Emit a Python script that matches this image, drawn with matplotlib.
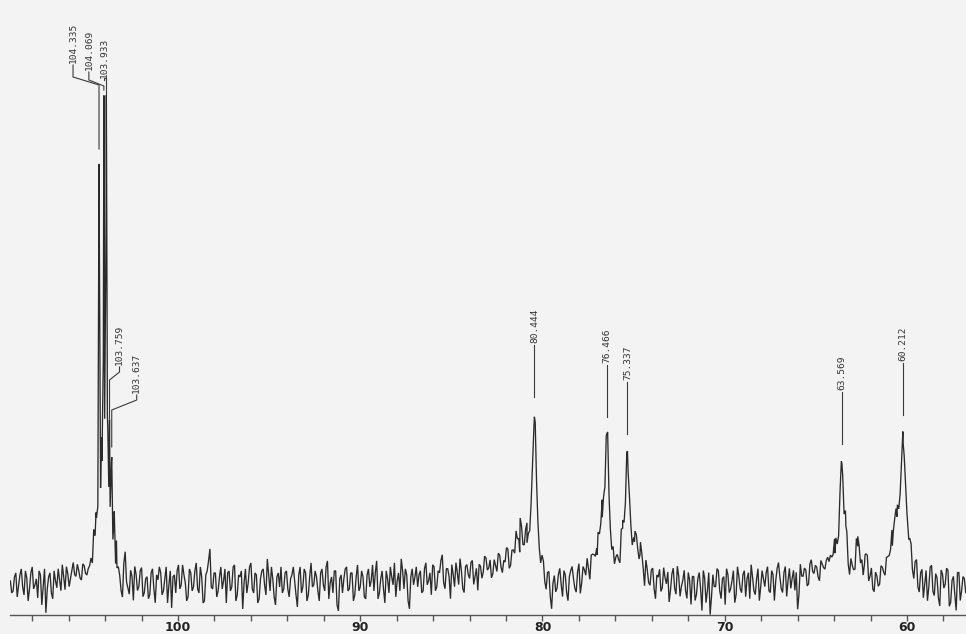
import numpy as np
import matplotlib
matplotlib.use("Agg")
import matplotlib.pyplot as plt

# ---------------- data ----------------
# peak list: chemical shift (ppm), height above baseline, half width (ppm)
peak_ppm = [104.62, 104.50, 104.335, 104.20, 104.069, 103.933, 103.85, 103.759, 103.637, 103.50, 103.38,
            81.25, 80.85, 80.444,
            77.00, 76.72, 76.466,
            75.60, 75.337, 74.95, 74.65,
            63.95, 63.569, 63.35, 62.70, 62.30,
            60.80, 60.55, 60.212, 59.90]
peak_height = [40, 55, 405, 110, 460, 455, 95, 135, 110, 55, 35,
               24, 20, 162,
               16, 34, 137,
               32, 121, 26, 20,
               18, 109, 28, 30, 22,
               22, 42, 130, 22]
peak_hwhm = [0.03, 0.03, 0.025, 0.03, 0.025, 0.025, 0.03, 0.025, 0.025, 0.03, 0.03,
             0.20, 0.15, 0.13,
             0.30, 0.12, 0.11,
             0.12, 0.11, 0.12, 0.15,
             0.15, 0.12, 0.12, 0.15, 0.15,
             0.15, 0.12, 0.13, 0.15]

# labelled peaks
label_text = ["104.335", "104.069", "103.933", "103.759", "103.637",
              "80.444", "76.466", "75.337", "63.569", "60.212"]
label_ppm = [104.335, 104.069, 103.933, 103.759, 103.637,
             80.444, 76.466, 75.337, 63.569, 60.212]
label_peak_top = [416, 475, 470, 146, 118, 168, 148, 131, 121, 150]

# baseline noise, sampled every 0.15 ppm from 109.2 ppm downwards
noise_start = 109.2
noise_step = 0.15
baseline_noise = [
    2, -8, 10, -3, 14, -12, 5, -6, 16, -2, -15, 8, -4, -30, 6, -10, 12, -5, 3, 18, -7, 9, 4, 20, 6,
    12, 2, 16, 6, 14, 10, 18, 12, 20, 14, 16, 10, 18, 6, -8, 4, -16, 30, -6, 12, -18, 8, -4, 15, -10,
    6, -12, 14, -20, 3, 10, -8, 16, -2, -25, 8, 12, -6, 18, 0, -14, 10, -4, 20, -10, 6, -18, 12, 34, -6,
    10, -8, 16, 2, -20, 12, -4, 18, -12, 6, -26, 14, 0, 20, -10, 8, -16, 12, -2, 24, -8, 4, -22, 10, 16,
    -6, 12, -14, 8, 2, -24, 16, -4, 10, -12, 20, -2, 6, -18, 14, -8, 22, 0, -10, 12, -28, 8, 4, 16, -6,
    10, -12, 18, -4, 6, -16, 14, 2, -8, 22, -10, 12, -20, 4, 16, -2, -14, 10, 24, -6, 8, -26, 14, 6, -4,
    12, -8, 20, 2, -12, 16, -4, 10, 28, -6, 14, -16, 8, 20, -2, 12, -10, 18, 4, 22, 6, -8, 16, 10, 24,
    14, 4, 22, 10, 26, 8, 18, 30, 12, 24, 36, 16, 28, 10, 20, 6, 14, 12, 8, -2, 10, -14, 6, -30, 4,
    -8, 12, -16, 6, -20, 10, 2, -12, 16, -4, 8, 18, -6, 14, 4, 20, 10, 16, 8, 14, 6, 2, 12, -6, 8,
    4, -8, 14, 6, 18, -4, 10, -12, 8, -6, 12, -18, 4, -10, 14, -2, -20, 8, -6, 16, -14, 2, -8, 10, -22,
    6, -12, 10, -28, 4, -8, -32, 8, -4, 12, -16, 6, 14, -10, 2, -20, 16, -6, 8, -14, 10, 18, -8, 4, -18,
    12, -4, 16, -10, 8, 2, 20, -6, 10, -14, 14, 4, -8, -27, 18, 6, 12, -2, 22, 8, 14, 0, 16, 10, 20,
    18, 8, 14, 4, 10, -6, 6, -12, 2, -8, 10, -4, -16, 4, -10, 8, -14, 2, -6, 10, 0, 14, 8, 12, 16,
    14, 18, 10, 16, 8, -4, 12, -10, 6, -18, 10, -6, 16, -14, 4, -24, 8, -2, 12, -20, 6, -28, 10, -8, 4,
]
# noise read at the midpoints (0.075 ppm below each point above)
baseline_noise_mid = [
    -10, 6, -14, 8, -4, 12, -18, 10, -6, 4, 12, -22, 14, -6, 10, -16, 2, 14, -8, 6, 16, -4, 12, 8, 18,
    4, 18, 8, 12, 20, 6, 14, 8, 16, 10, 22, 4, 12, -4, 10, -10, 18, 0, -12, 6, 16, -8, 12, -14, 4,
    -16, 10, -6, 8, 16, -12, 4, -20, 12, 6, -10, 18, -2, 8, -18, 14, -8, 12, -6, 16, -20, 8, 22, -4, 10,
    -14, 6, -6, 14, 10, -8, 16, -18, 8, 12, 0, -10, 16, -6, 10, -20, 4, 14, -12, 8, 16, -14, 6, -4, -10,
    10, -6, 4, 16, -12, 8, -10, 14, -18, 6, -4, 12, -8, 10, -2, 16, -16, 6, 12, -22, 4, -10, 14, -8, 10,
    -18, 6, -8, 12, -14, 8, -4, 18, 10, -16, 4, -6, 12, -10, 6, 20, 2, -8, 12, 14, -18, 6, -2, 16, 8,
    -10, 14, -2, 10, 18, -8, 12, 22, 0, 14, 6, 18, -4, 10, 24, -6, 16, 8, 20, -2, 14, 18, 4, 26, 12,
    22, 8, 16, 28, 14, 20, 32, 10, 26, 18, 22, 34, 12, 20, 8, 16, -4, 10, 2, 12, -8, 4, -18, -4, -12,
    6, -4, 10, -12, 4, 14, -8, 8, -14, 12, 2, 6, 16, 10, 8, 12, 18, 6, 20, 12, 16, 10, 4, 14, 2,
    10, 16, 2, 12, 8, 14, 2, 16, -4, 10, -8, 6, 12, -6, 4, 10, -8, 14, -12, 6, -4, 12, -16, 2, 6,
    -18, 4, -6, 12, -20, 10, -14, -4, 14, -8, 4, -22, 8, -6, 12, -12, 6, -10, 12, 4, -16, 6, -12, 14, -4,
    4, 10, -8, 12, -18, 14, 6, -10, 16, 2, -6, 12, 10, -12, 6, 14, -4, 18, 10, 16, 4, 20, 12, 18, 14,
    12, 16, 6, 20, -2, 12, -10, 8, -4, 14, 6, 2, -8, 10, -2, -12, 6, -8, 12, 4, 16, 10, 18, 20, 12,
    20, 12, 24, 4, 14, -8, 16, -14, 10, -4, -20, 14, -10, 8, -16, 12, -6, 14, -24, 2, -12, 10, -18, 6, -10,
]

major_ticks = [100, 90, 80, 70, 60]
tick_labels = ["100", "90", "80", "70", "60"]

# ---------------- layout ----------------
W, H = 966, 634
PX_PER_PPM = 18.225
BG = "#f3f3f3"
INK = "#2b2b2b"

# label layout for the crowded group: horizontal text shift (px), text bottom, elbow heights
fan_dx_px = [-26, -15, -2, 10, 25]
fan_text_bottom = [520, 513, 505, 218, 190]
fan_elbow_top = [506, 503, 505, 211, 183]
fan_elbow_bot = [498, 497, 505, 203, 173]

fig = plt.figure(figsize=(W / 100, H / 100), dpi=100, facecolor=BG)
ax = fig.add_axes([10 / W, 19 / H, 956 / W, 615 / H], facecolor=BG)
ax.set_xlim(109.22, 56.76)
ax.set_ylim(-32, 583)


def lineshape(x):
    y = np.zeros_like(x, dtype=float)
    for p, h, w in zip(peak_ppm, peak_height, peak_hwhm):
        y += h * w ** 2 / ((x - p) ** 2 + w ** 2)
    return y


grid_x = noise_start - noise_step * np.arange(len(baseline_noise))
mid_x = grid_x - noise_step / 2
x_all = np.concatenate([grid_x, mid_x, np.array(peak_ppm)])
n_all = np.concatenate([np.array(baseline_noise, float),
                        np.array(baseline_noise_mid, float),
                        np.zeros(len(peak_ppm))])
order = np.argsort(-x_all)
x_all = x_all[order]
n_all = n_all[order]
y_all = lineshape(x_all) + n_all

ax.plot(x_all, y_all, color=INK, lw=0.95, solid_joinstyle="miter")

# peak labels with leader lines
for i, (txt, ppm, top) in enumerate(zip(label_text, label_ppm, label_peak_top)):
    if i < len(fan_dx_px):
        tx = ppm - fan_dx_px[i] / PX_PER_PPM
        tb = fan_text_bottom[i]
        e1 = fan_elbow_top[i]
        e2 = fan_elbow_bot[i]
    else:
        tx = ppm
        tb = top + 72
        e1 = e2 = tb - 2
    end = top + 18
    ax.plot([tx, tx, ppm, ppm], [tb - 2, e1, e2, end], color="#3a3a3a", lw=0.8)
    ax.text(tx, tb, txt, rotation=90, ha="center", va="bottom",
            family="DejaVu Sans Mono", fontsize=6.8, color="#333333")

# axis
for s in ["top", "left", "right"]:
    ax.spines[s].set_visible(False)
ax.spines["bottom"].set_color("#555555")
ax.spines["bottom"].set_linewidth(1.0)
ax.set_yticks([])
ax.set_xticks(major_ticks)
ax.set_xticklabels(tick_labels)
ax.set_xticks(np.arange(58, 110, 2), minor=True)
ax.tick_params(axis="x", which="major", length=4, width=1, color="#555555",
               direction="out", pad=0, labelsize=9, labelcolor="#222222")
ax.tick_params(axis="x", which="minor", length=4, width=1, color="#555555",
               direction="out")
for lab in ax.get_xticklabels():
    lab.set_fontfamily("DejaVu Sans")
    lab.set_fontweight("bold")

fig.savefig("out.png", dpi=100, facecolor=BG)
